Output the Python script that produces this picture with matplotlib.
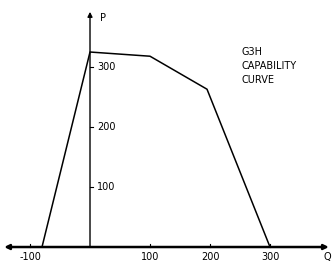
import numpy as np
import matplotlib
matplotlib.use("Agg")
import matplotlib.pyplot as plt

# capability curve corners (Q, P)
q_vals = [-80, 0, 100, 195, 300]
p_vals = [0, 325, 318, 263, 0]

x_ticks = [-100, 100, 200, 300]
x_tick_labels = ["-100", "100", "200", "300"]
y_ticks = [100, 200, 300]
y_tick_labels = ["100", "200", "300"]

title_lines = ["G3H", "CAPABILITY", "CURVE"]

fig = plt.figure(figsize=(3.32, 2.61), dpi=100)
ax = fig.add_axes([0, 0, 1, 1])
ax.set_xlim(-150, 403.3)
ax.set_ylim(-23.3, 411.7)

for s in ["top", "left", "bottom", "right"]:
    ax.spines[s].set_visible(False)

# axes with arrows
ax.annotate("", xy=(398, 0), xytext=(-143, 0),
            arrowprops=dict(arrowstyle="<|-|>", lw=1.8, color="black",
                            mutation_scale=7, shrinkA=0, shrinkB=0))
ax.annotate("", xy=(0, 392), xytext=(0, 0),
            arrowprops=dict(arrowstyle="-|>", lw=1.0, color="black",
                            mutation_scale=7, shrinkA=0, shrinkB=0))

ax.plot(q_vals, p_vals, color="black", lw=1.1)

# tick marks and labels
for x, lab in zip(x_ticks, x_tick_labels):
    ax.plot([x, x], [0, 5], color="black", lw=0.8)
    ax.text(x, -17, lab, ha="center", va="center", fontsize=7)
for y, lab in zip(y_ticks, y_tick_labels):
    ax.plot([0, 5], [y, y], color="black", lw=0.8)
    ax.text(12, y, lab, ha="left", va="center", fontsize=7)

ax.text(16, 382, "P", ha="left", va="center", fontsize=7)
ax.text(395, -17, "Q", ha="center", va="center", fontsize=7)

ax.text(252, 302, "\n".join(title_lines), ha="left", va="center",
        fontsize=7, linespacing=1.5)

ax.set_xticks([])
ax.set_yticks([])
fig.savefig("out.png", dpi=100)
